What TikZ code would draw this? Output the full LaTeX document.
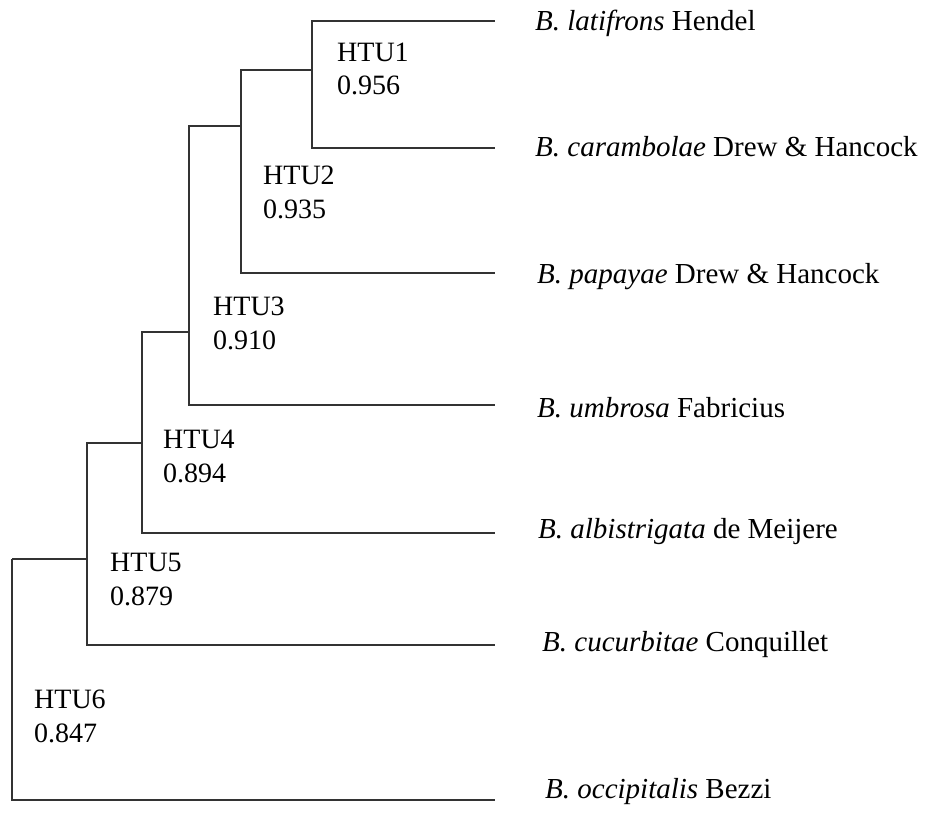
\documentclass[tikz,border=0pt]{standalone}
\usepackage{fontspec}
\setmainfont{Liberation Serif}
\newcommand{\htufont}{\fontsize{28}{33.5}\selectfont}
\newcommand{\taxonfont}{\fontsize{29}{34}\selectfont}
\tikzset{
  branch/.style={line width=2pt,black!80},
  htu/.style={anchor=base west,align=left,inner sep=0pt,font=\htufont},
  taxon/.style={anchor=base west,inner sep=0pt,font=\taxonfont}
}
\begin{document}
\begin{tikzpicture}[x=1pt,y=-1pt]
      \useasboundingbox (0,0) rectangle (927,816);
      % joins and tips
      \draw
        (312,70) coordinate (h1)
        (241,126) coordinate (h2)
        (189,332) coordinate (h3)
        (142,443) coordinate (h4)
        (87,559) coordinate (h5)
        (12,559) coordinate (h6)
        (495,21) coordinate (t1)
        (495,148) coordinate (t2)
        (495,273) coordinate (t3)
        (495,405) coordinate (t4)
        (495,533) coordinate (t5)
        (495,645) coordinate (t6)
        (495,800) coordinate (t7);
      % HTU labels (base = last line)
      \draw
        (337,95) node[htu] (u1){HTU1\\0.956}
        (263,218) node[htu] (u2){HTU2\\0.935}
        (213,349) node[htu] (u3){HTU3\\0.910}
        (163,482) node[htu] (u4){HTU4\\0.894}
        (110,605) node[htu] (u5){HTU5\\0.879}
        (34,742) node[htu] (u6){HTU6\\0.847};
      % taxa
      \draw
        (535,31) node[taxon] (latifrons){\textit{B. latifrons} Hendel}
        (535,157) node[taxon] (carambolae){\textit{B. carambolae} Drew \& Hancock}
        (537,283) node[taxon] (papayae){\textit{B. papayae} Drew \& Hancock}
        (537,417) node[taxon] (umbrosa){\textit{B. umbrosa} Fabricius}
        (538,538) node[taxon] (albistrigata){\textit{B. albistrigata} de Meijere}
        (542,651) node[taxon] (cucurbitae){\textit{B. cucurbitae} Conquillet}
        (545,798) node[taxon] (occipitalis){\textit{B. occipitalis} Bezzi};
      \begin{scope}[branch]
        \draw (h1) |- (t1);
        \draw (h1) |- (t2);
        \draw (h2) |- (h1);
        \draw (h2) |- (t3);
        \draw (h3) |- (h2);
        \draw (h3) |- (t4);
        \draw (h4) |- (h3);
        \draw (h4) |- (t5);
        \draw (h5) |- (h4);
        \draw (h5) |- (t6);
        \draw (h6) |- (h5);
        \draw (h6) |- (t7);
      \end{scope}
    \end{tikzpicture}
\end{document}
